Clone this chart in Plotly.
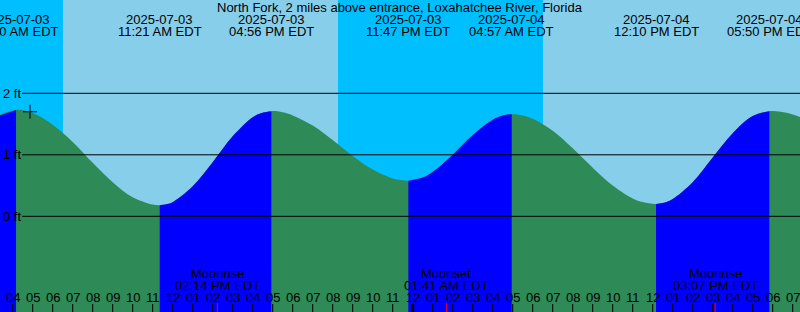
import plotly.graph_objects as go

# ---------------- data (hours since 2025-07-03 00:00 EDT, heights in feet) ----------------
title_text = "North Fork, 2 miles above entrance, Loxahatchee River, Florida"

tide_hours = [4.167, 11.35, 16.933, 23.783, 28.95, 36.167, 41.833]
tide_feet = [1.73, 0.18, 1.71, 0.58, 1.66, 0.20, 1.71]
tide_dates = ["2025-07-03", "2025-07-03", "2025-07-03", "2025-07-03",
              "2025-07-04", "2025-07-04", "2025-07-04"]
tide_clock = ["04:10 AM EDT", "11:21 AM EDT", "04:56 PM EDT", "11:47 PM EDT",
              "04:57 AM EDT", "12:10 PM EDT", "05:50 PM EDT"]

# water level
curve_hours = [3, 5, 6, 7, 8, 9, 10, 11, 11.8, 12, 13, 14, 15, 16, 16.4, 17.5, 18, 19, 20, 21, 22, 23, 23.3,
               24.5, 25, 26, 27, 28, 28.5, 29.5, 30, 31, 32, 33, 34, 35, 35.5, 36.7, 37, 38, 39, 40, 41,
               42.4, 43, 44]
curve_feet = [1.60, 1.68, 1.49, 1.21, 0.87, 0.555, 0.31, 0.19, 0.204, 0.23, 0.49, 0.88, 1.30, 1.61, 1.676,
              1.691, 1.64, 1.475, 1.24, 0.98, 0.76, 0.615, 0.594,
              0.631, 0.72, 1.00, 1.32, 1.57, 1.64, 1.639, 1.585, 1.39, 1.105, 0.79, 0.50, 0.29, 0.231,
              0.233, 0.28, 0.555, 0.955, 1.35, 1.63,
              1.70, 1.655, 1.53]

sun_hours = [6.515, 20.265, 30.515]          # sunrise, sunset, sunrise
sun_events = ["Sunrise", "Sunset", "Sunrise"]

moon_hours = [14.233, 25.683, 39.117]
moon_names = ["Moonrise", "Moonset", "Moonrise"]
moon_clock = ["02:14 PM EDT", "01:41 AM EDT", "03:07 PM EDT"]

now_hour = [4.865]
now_feet = [1.70]

level_values = [0, 1, 2]
level_labels = ["0 ft", "1 ft", "2 ft"]

# ---------------- styling ----------------
W, H = 800, 312
X_MIN, X_MAX = 3.365, 43.365
Y_MIN, Y_MAX = -1.556, 3.517
DAY = "#87CEEB"
NIGHT = "#00BFFF"
EBB = "#2E8B57"
FLOOD = "#0000FF"
FONT = dict(family="Liberation Sans, Arial, sans-serif", size=13, color="#000000")


def py(pix):
    """pixel row (from top) -> paper y"""
    return 1 - pix / H


fig = go.Figure()

# ---- sky (day / night) ----
edges = [X_MIN] + sun_hours + [X_MAX]
shapes = []
for i in range(len(edges) - 1):
    kind_is_day = (i % 2 == 1)  # before first sunrise = night
    shapes.append(dict(type="rect", xref="x", yref="paper", x0=edges[i], x1=edges[i + 1],
                       y0=0, y1=1, fillcolor=DAY if kind_is_day else NIGHT,
                       line=dict(width=0), layer="below"))

# ---- tide curve fills ----
pts = sorted(zip(curve_hours + tide_hours, curve_feet + tide_feet))
all_x = [p[0] for p in pts]
all_y = [p[1] for p in pts]

# whole curve in ebb colour
fig.add_trace(go.Scatter(x=[all_x[0], all_x[-1]], y=[Y_MIN, Y_MIN], mode="lines",
                         line=dict(width=0, color=EBB), hoverinfo="skip", showlegend=False))
fig.add_trace(go.Scatter(x=all_x, y=all_y, mode="lines", line=dict(width=0, shape="spline", color=EBB),
                         fill="tonexty", fillcolor=EBB, hoverinfo="skip", showlegend=False))

# rising (flood) segments in blue
bounds = [all_x[0]] + tide_hours + [all_x[-1]]
for a, b in zip(bounds[:-1], bounds[1:]):
    seg = [p for p in pts if a <= p[0] <= b]
    if len(seg) < 2 or seg[-1][1] <= seg[0][1]:
        continue
    fig.add_trace(go.Scatter(x=[seg[0][0], seg[-1][0]], y=[Y_MIN, Y_MIN], mode="lines",
                             line=dict(width=0, color=FLOOD), hoverinfo="skip", showlegend=False))
    fig.add_trace(go.Scatter(x=[p[0] for p in seg], y=[p[1] for p in seg], mode="lines",
                             line=dict(width=0, shape="spline", color=FLOOD),
                             fill="tonexty", fillcolor=FLOOD, hoverinfo="skip", showlegend=False))

# current-time cross
fig.add_trace(go.Scatter(x=now_hour, y=now_feet, mode="markers",
                         marker=dict(symbol="cross-thin", size=10, line=dict(width=1, color="black")),
                         hoverinfo="skip", showlegend=False))

# ---- level lines ----
annotations = []
for v, lab in zip(level_values, level_labels):
    shapes.append(dict(type="line", xref="paper", yref="y", x0=22 / W, x1=1, y0=v, y1=v,
                       line=dict(color="black", width=1), layer="above"))
    annotations.append(dict(xref="paper", yref="y", x=2 / W, y=v, text=lab, showarrow=False,
                            xanchor="left", yanchor="middle", font=FONT, borderpad=0))

# ---- hour ticks ----
for hr in range(4, 44):
    shapes.append(dict(type="line", xref="x", yref="paper", x0=hr, x1=hr, y0=0, y1=py(304),
                       line=dict(color="black", width=3 if hr % 24 == 0 else 1), layer="above"))
    lab = "%02d" % ((hr - 1) % 12 + 1)
    annotations.append(dict(xref="x", yref="paper", x=hr, y=py(297), text=lab, showarrow=False,
                            xanchor="center", yanchor="middle", font=FONT, borderpad=0))

# ---- moon events ----
for t, name, clk in zip(moon_hours, moon_names, moon_clock):
    shapes.append(dict(type="line", xref="x", yref="paper", x0=t, x1=t, y0=0, y1=py(303),
                       line=dict(color="red", width=1), layer="above"))
    annotations.append(dict(xref="x", yref="paper", x=t, y=py(273.8), text=name, showarrow=False,
                            xanchor="center", yanchor="middle", font=FONT, borderpad=0))
    annotations.append(dict(xref="x", yref="paper", x=t, y=py(285.5), text=clk, showarrow=False,
                            xanchor="center", yanchor="middle", font=FONT, borderpad=0))

# ---- tide extreme labels ----
for t, d, clk in zip(tide_hours, tide_dates, tide_clock):
    annotations.append(dict(xref="x", yref="paper", x=t, y=py(19.5), text=d, showarrow=False,
                            xanchor="center", yanchor="middle", font=FONT, borderpad=0))
    annotations.append(dict(xref="x", yref="paper", x=t, y=py(31.5), text=clk, showarrow=False,
                            xanchor="center", yanchor="middle", font=FONT, borderpad=0))

# ---- title ----
annotations.append(dict(xref="paper", yref="paper", x=0.5, y=py(7.6), text=title_text, showarrow=False,
                        xanchor="center", yanchor="middle", font=FONT, borderpad=0))

fig.update_layout(
    width=W, height=H, margin=dict(l=0, r=0, t=0, b=0, pad=0),
    paper_bgcolor=DAY, plot_bgcolor=DAY,
    xaxis=dict(range=[X_MIN, X_MAX], visible=False, fixedrange=True),
    yaxis=dict(range=[Y_MIN, Y_MAX], visible=False, fixedrange=True),
    shapes=shapes, annotations=annotations, showlegend=False,
)

fig.write_html("out.html")
